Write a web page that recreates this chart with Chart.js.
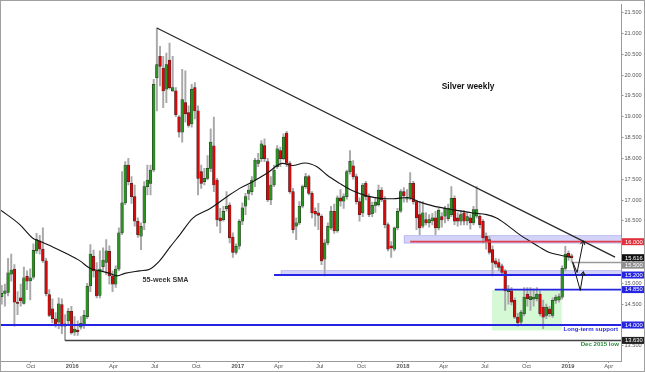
<!DOCTYPE html>
<html><head><meta charset="utf-8">
<script src="https://cdn.jsdelivr.net/npm/chart.js@4.4.0/dist/chart.umd.min.js"></script>
<style>html,body{margin:0;padding:0;background:#fff;}#wrap{width:645px;height:372px;position:relative;}</style>
</head><body><div id="wrap"><canvas id="c" width="645" height="372"></canvas></div>
<script>
// ---------- DATA ----------
const firstWeek = '2015-07-27'; // Monday of first weekly candle
const openV = [14.68,14.76,14.78,15.22,15.34,14.55,14.65,14.52,15.17,15.06,15.15,15.78,16.02,15.82,15.54,14.73,14.39,14.15,14.07,14.49,
13.97,14.10,14.33,13.83,13.88,13.95,14.00,14.20,14.94,15.65,15.30,14.71,15.40,15.50,15.77,15.18,14.98,15.34,16.21,16.93,
17.84,17.40,17.08,16.49,16.13,16.45,17.32,17.40,17.72,19.94,20.45,20.17,19.66,20.36,19.62,19.62,19.00,18.63,19.34,19.10,
18.83,19.70,19.14,17.68,17.44,17.52,17.76,18.30,17.48,16.57,16.53,16.79,16.88,16.11,15.74,15.89,16.49,16.85,17.16,17.20,
17.48,17.88,17.99,18.31,17.92,17.00,17.36,17.80,18.19,17.99,18.61,17.88,17.20,16.37,16.45,16.85,17.32,17.56,17.16,16.73,
16.69,16.61,15.58,15.97,16.33,16.73,16.26,17.05,16.97,17.08,17.68,17.82,17.56,16.96,16.69,17.40,17.08,16.67,16.87,16.89,
17.24,17.00,16.41,15.90,15.82,16.33,16.73,17.20,17.02,17.05,17.40,16.96,16.65,16.37,16.53,16.45,16.50,16.57,16.33,16.60,
16.61,16.55,16.65,17.04,16.57,16.49,16.69,16.50,16.57,16.45,16.61,16.61,16.49,16.13,16.05,15.81,15.54,15.50,15.42,15.30,
14.80,14.82,14.59,14.19,14.07,14.27,14.74,14.61,14.62,14.63,14.74,14.43,14.23,14.39,14.23,14.59,14.60,14.67,15.36,15.72,15.66];
const highV = [14.95,14.98,15.60,15.70,15.45,14.80,14.98,15.39,15.30,15.35,15.95,16.20,16.15,16.33,15.60,14.85,14.63,14.30,14.65,14.63,
14.25,14.40,14.45,14.20,14.10,14.20,14.35,15.00,15.93,15.80,15.50,15.78,15.85,16.05,15.90,15.30,15.42,16.33,17.68,17.92,
18.00,17.56,17.36,16.57,16.45,17.44,17.84,17.84,19.90,21.13,20.69,20.45,20.53,20.77,20.45,19.70,19.03,20.14,20.10,19.26,
19.78,19.82,19.26,17.84,17.76,18.07,18.71,18.99,17.52,16.80,16.85,17.20,16.93,16.21,15.95,16.53,16.93,17.16,17.36,17.56,
18.00,18.12,18.43,18.47,18.00,17.56,17.84,18.31,18.27,18.59,18.65,17.92,17.28,16.57,16.96,17.36,17.64,17.60,17.20,16.81,
16.92,16.65,16.05,16.45,16.85,16.90,17.10,17.25,17.15,17.72,18.19,17.95,17.62,17.05,17.40,17.45,17.15,16.95,17.05,17.36,
17.30,17.08,16.45,16.00,16.35,16.80,17.25,17.30,17.25,17.66,17.45,17.00,16.96,16.96,16.70,16.65,16.68,16.73,16.80,16.70,
16.85,16.90,17.32,17.10,16.69,16.75,16.75,16.70,16.65,16.85,17.32,16.65,16.53,16.21,16.13,15.90,15.60,15.58,15.46,15.33,
14.95,14.90,14.65,14.28,14.35,14.90,14.90,14.90,14.87,14.90,14.82,14.60,14.50,14.45,14.65,14.72,14.75,15.42,15.89,15.78,15.70];
const lowV = [14.50,14.45,14.70,15.05,13.97,14.25,14.45,14.50,14.85,14.60,15.10,15.72,15.70,15.50,14.70,14.20,14.05,13.95,13.91,13.79,
13.63,14.00,13.78,13.75,13.75,13.90,13.92,14.15,14.80,15.15,14.65,14.65,15.30,15.20,14.98,14.80,14.90,15.30,16.17,16.89,
17.36,16.92,16.37,16.10,15.81,16.29,17.12,17.12,17.68,19.14,19.74,19.22,19.34,19.66,19.60,19.00,18.51,18.39,18.87,18.75,
18.75,18.95,17.12,17.28,17.36,17.48,17.68,17.20,16.37,16.21,16.49,16.73,15.97,15.62,15.70,15.82,16.41,16.65,17.00,17.12,
17.32,17.80,17.92,17.92,16.96,16.89,17.32,17.76,17.80,17.96,17.80,17.16,16.21,16.05,16.41,16.81,17.28,17.12,16.57,16.37,
16.29,15.45,15.18,15.92,16.29,16.20,16.22,16.85,16.80,17.02,17.62,17.50,16.90,16.49,16.60,17.00,16.60,16.60,16.70,16.85,
16.96,16.33,15.78,15.62,15.78,16.28,16.70,16.95,16.95,17.00,16.90,16.29,16.17,16.33,16.40,16.35,16.40,16.17,16.28,16.35,
16.45,16.50,16.60,16.41,16.37,16.40,16.40,16.40,16.30,16.40,16.57,16.33,15.97,15.82,15.70,15.18,15.38,15.30,15.22,14.35,
14.50,14.48,14.15,13.97,14.02,14.22,14.45,14.35,14.45,14.58,14.22,13.91,14.15,14.20,14.18,14.52,14.55,14.62,15.30,15.55,15.50];
const closeV = [14.76,14.82,15.25,15.32,14.55,14.52,14.58,15.13,15.05,15.13,15.79,16.05,15.82,15.54,14.75,14.23,14.15,14.02,14.51,13.97,
14.03,14.33,13.81,13.90,13.84,14.04,14.23,14.93,15.70,15.30,14.70,15.34,15.56,15.78,15.18,14.98,15.34,16.21,16.93,17.84,
17.44,17.08,16.49,16.17,16.37,17.32,17.48,17.72,19.78,20.25,20.21,19.62,20.25,19.70,19.70,19.05,18.63,19.41,19.07,18.79,
19.66,19.14,17.52,17.40,17.52,17.76,18.39,17.36,16.53,16.50,16.73,16.85,16.09,15.74,15.89,16.49,16.81,17.08,17.24,17.48,
17.96,17.96,18.35,17.99,17.00,17.36,17.72,18.23,17.99,18.51,17.88,17.20,16.29,16.45,16.85,17.32,17.56,17.16,16.69,16.66,
16.63,15.54,15.97,16.37,16.73,16.26,17.05,16.97,17.08,17.68,17.93,17.56,16.96,16.65,17.36,17.08,16.65,16.87,16.95,17.24,
17.00,16.41,15.82,15.85,16.33,16.73,17.20,17.10,17.05,17.40,16.96,16.57,16.33,16.69,16.45,16.53,16.57,16.33,16.75,16.52,
16.81,16.80,17.04,16.49,16.49,16.65,16.49,16.60,16.45,16.77,16.77,16.41,16.09,16.01,15.74,15.50,15.46,15.38,15.26,14.82,
14.86,14.55,14.19,14.05,14.31,14.67,14.63,14.68,14.67,14.74,14.27,14.19,14.43,14.27,14.59,14.67,14.68,15.36,15.70,15.63,15.616];

// 55-week SMA
const smaDates = ['2015-07-25','2015-09-07','2015-10-05','2015-10-21','2015-11-19','2015-12-20','2016-01-18','2016-02-09','2016-03-02',
'2016-03-24','2016-04-09','2016-04-26','2016-05-29','2016-06-20','2016-07-12','2016-08-04','2016-08-26','2016-09-23','2016-10-31',
'2016-12-08','2017-01-05','2017-02-03','2017-03-06','2017-04-10','2017-05-02','2017-05-29','2017-06-25','2017-07-17','2017-08-14',
'2017-09-12','2017-10-13','2017-11-11','2017-12-10','2018-01-10','2018-02-08','2018-03-08','2018-04-08','2018-05-07','2018-06-04',
'2018-07-05','2018-07-27','2018-08-18','2018-09-16','2018-10-15','2018-10-30','2018-11-21','2018-12-13','2019-01-07'];
const smaValues = [16.77,16.41,16.09,16.01,15.87,15.71,15.54,15.36,15.30,
15.24,15.18,15.24,15.30,15.34,15.54,15.87,16.17,16.56,16.79,
17.08,17.28,17.44,17.64,17.88,17.83,17.89,17.80,17.60,17.40,
17.22,17.10,17.04,17.03,17.06,16.95,16.86,16.79,16.74,16.69,
16.65,16.57,16.41,16.17,15.97,15.87,15.74,15.68,15.63];

// falling trend line from the July 2016 high
const trendDates = ['2016-07-06','2019-04-15'];
const trendValues = [21.13, 15.63];

// horizontal levels (value, first date drawn)
const levelValues = [14.00, 13.63, 15.20, 16.00, 14.85, 15.50];
const levelStarts = ['2015-07-01','2015-12-16','2017-03-22','2018-01-17','2018-07-23','2019-01-12'];
// shaded zones
const zoneStarts = ['2017-04-06','2018-01-03'];
const zoneLows = [15.20, 15.96];
const zoneHighs = [15.31, 16.15];
// consolidation box
const boxDates = ['2018-07-17','2018-12-18'];
const boxValues = [13.87, 14.84];

// projected paths
const pathADates = ['2019-01-11','2019-01-21','2019-02-04'];
const pathAValues = [15.52, 15.26, 16.02];
const pathBDates = ['2019-01-11','2019-01-28','2019-02-04'];
const pathBValues = [15.50, 14.83, 15.28];

// axis tags on the price scale
const tagValues = [16.000, 15.616, 15.500, 15.200, 14.850, 14.000, 13.630];

// ticks
const xTickDates = ['2015-10-01','2016-01-01','2016-04-01','2016-07-01','2016-10-01','2017-01-01','2017-04-01','2017-07-01',
'2017-10-01','2018-01-01','2018-04-01','2018-07-01','2018-10-01','2019-01-01','2019-04-01'];
const xTickLabels = ['Oct','2016','Apr','Jul','Oct','2017','Apr','Jul','Oct','2018','Apr','Jul','Oct','2019','Apr'];
const yTickValues = [13.5,14.0,14.5,15.0,15.5,16.0,16.5,17.0,17.5,18.0,18.5,19.0,19.5,20.0,20.5,21.0,21.5];

// ---------- HELPERS ----------
const DAY0 = Date.UTC(2016,0,1);
function dayOf(s){const p=s.split('-').map(Number);return (Date.UTC(p[0],p[1]-1,p[2])-DAY0)/86400000;}
const w0 = dayOf(firstWeek);
const cx = openV.map((_,i)=>w0+7*i+2);
const XMIN=-157.6, XMAX=1213.1, YMIN=13.136, YMAX=21.697;
const FONT='"Liberation Sans", Arial, sans-serif';

const GREEN='#2a9220', RED='#d40a0a';
const bodyColors = openV.map((o,i)=>closeV[i]>=o?GREEN:RED);

const levelStyle = [
  {c:'#2424e2',w:2},{c:'#444444',w:1.5},{c:'#2424e2',w:2},{c:'#e0404e',w:1.8},{c:'#2424e2',w:1.8},{c:'#9a9a9a',w:1.5}];
const tagStyle = ['#e0303c','#111111','#8f8f8f','#2424e2','#2424e2','#2424e2','#222222'];

const datasets = [];
levelValues.forEach((v,k)=>{
  datasets.push({type:'line',data:[{x:dayOf(levelStarts[k]),y:v},{x:XMAX,y:v}],borderColor:levelStyle[k].c,
    borderWidth:levelStyle[k].w,pointRadius:0,order:1});
});
datasets.push({type:'bar',data:cx.map((x,i)=>({x:x,y:[lowV[i],highV[i]]})),backgroundColor:'#a9a9a9',
  barThickness:1.3,grouped:false,order:4});
datasets.push({type:'bar',data:cx.map((x,i)=>({x:x,y:[Math.min(openV[i],closeV[i]),Math.max(openV[i],closeV[i])+ (Math.abs(openV[i]-closeV[i])<0.02?0.02:0)]})),
  backgroundColor:bodyColors,borderColor:'#2a2a2a',borderWidth:0.5,borderSkipped:false,barThickness:2.7,grouped:false,order:3});
datasets.push({type:'line',data:smaDates.map((d,i)=>({x:dayOf(d),y:smaValues[i]})),borderColor:'#151515',borderWidth:1.1,
  pointRadius:0,cubicInterpolationMode:'monotone',order:2});
datasets.push({type:'line',data:trendDates.map((d,i)=>({x:dayOf(d)+0,y:trendValues[i]})),borderColor:'#262626',borderWidth:1.2,pointRadius:0,order:0});
datasets.push({type:'line',data:pathADates.map((d,i)=>({x:dayOf(d),y:pathAValues[i]})),borderColor:'#111',borderWidth:1,pointRadius:0,order:0,arrow:true});
datasets.push({type:'line',data:pathBDates.map((d,i)=>({x:dayOf(d),y:pathBValues[i]})),borderColor:'#111',borderWidth:1,pointRadius:0,order:0,arrow:true});

const bgPlugin = {
  id:'bg',
  beforeDatasetsDraw(chart){
    const {ctx,chartArea:a,scales:{x,y}} = chart;
    ctx.save();
    ctx.beginPath();ctx.rect(a.left,a.top,a.right-a.left,a.bottom-a.top);ctx.clip();
    // consolidation box
    const bx0=x.getPixelForValue(dayOf(boxDates[0])), bx1=x.getPixelForValue(dayOf(boxDates[1]));
    const by0=y.getPixelForValue(boxValues[1]), by1=y.getPixelForValue(boxValues[0]);
    ctx.fillStyle='rgba(178,242,178,0.55)';
    ctx.fillRect(bx0,by0,bx1-bx0,by1-by0);
    // zones
    zoneStarts.forEach((d,k)=>{
      const x0=x.getPixelForValue(dayOf(d)), y0=y.getPixelForValue(zoneHighs[k]), y1=y.getPixelForValue(zoneLows[k]);
      ctx.fillStyle='rgba(150,150,240,0.42)';
      ctx.fillRect(x0,y0,a.right-x0,y1-y0);
      ctx.strokeStyle='rgba(130,130,225,0.6)';ctx.lineWidth=0.6;
      ctx.strokeRect(x0+0.3,y0+0.3,a.right-x0,y1-y0-0.6);
    });
    ctx.restore();
  }
};

const overlayPlugin = {
  id:'overlay',
  afterDatasetsDraw(chart){
    const {ctx,chartArea:a,scales:{x,y}} = chart;
    ctx.save();
    // arrowheads
    chart.data.datasets.forEach((ds,di)=>{
      if(!ds.arrow) return;
      const pts = chart.getDatasetMeta(di).data;
      const p1=pts[pts.length-1], p0=pts[pts.length-2];
      const ang=Math.atan2(p1.y-p0.y,p1.x-p0.x);
      const L=4.5;
      ctx.strokeStyle='#111';ctx.lineWidth=1;
      ctx.beginPath();
      ctx.moveTo(p1.x-L*Math.cos(ang-0.55),p1.y-L*Math.sin(ang-0.55));
      ctx.lineTo(p1.x,p1.y);
      ctx.lineTo(p1.x-L*Math.cos(ang+0.55),p1.y-L*Math.sin(ang+0.55));
      ctx.stroke();
    });
    // texts
    ctx.textBaseline='middle';
    ctx.textAlign='center';
    ctx.fillStyle='#111';ctx.font='bold 8.4px '+FONT;
    ctx.fillText('Silver weekly',x.getPixelForValue(875),y.getPixelForValue(19.72));
    ctx.fillStyle='#333';ctx.font='bold 7.2px '+FONT;
    ctx.fillText('55-week SMA',x.getPixelForValue(206),y.getPixelForValue(15.08));
    ctx.textAlign='right';
    ctx.fillStyle='#2b2be0';ctx.font='bold 6.1px '+FONT;
    ctx.fillText('Long-term support',a.right-3,y.getPixelForValue(13.905));
    ctx.fillStyle='#2a8a3a';ctx.font='bold 6.1px '+FONT;
    ctx.fillText('Dec 2015 low',a.right-2,y.getPixelForValue(13.54));
    ctx.restore();
  },
  afterDraw(chart){
    const {ctx,chartArea:a,scales:{y}} = chart;
    ctx.save();
    const H=7;
    let prevBottom=-1e9;
    ctx.font='5.8px '+FONT;ctx.textBaseline='middle';ctx.textAlign='left';
    tagValues.forEach((v,k)=>{
      let top=y.getPixelForValue(v)-H/2;
      if(top<prevBottom+0.5) top=prevBottom+0.5;
      prevBottom=top+H;
      ctx.fillStyle=tagStyle[k];
      ctx.fillRect(a.right+1,top,chart.width-a.right-2,H);
      ctx.fillStyle='#ffffff';
      ctx.fillText(v.toFixed(3),a.right+4,top+H/2+0.3);
    });
    // frame
    ctx.strokeStyle='#a0a0a0';ctx.lineWidth=1;
    ctx.strokeRect(0.5,0.5,chart.width-1,chart.height-1);
    ctx.restore();
  }
};

new Chart(document.getElementById('c'),{
  type:'bar',
  data:{datasets:datasets},
  options:{
    responsive:false,animation:false,
    layout:{padding:{left:1,top:1,right:0,bottom:0}},
    plugins:{legend:{display:false},tooltip:{enabled:false}},
    scales:{
      x:{type:'linear',min:XMIN,max:XMAX,offset:false,
        afterBuildTicks:s=>{s.ticks=xTickDates.map(d=>({value:dayOf(d)}));},
        afterFit:s=>{s.height=11;},
        grid:{display:true,drawOnChartArea:false,drawTicks:true,tickLength:2,color:'#9a9a9a',offset:false},
        border:{display:true,color:'#9a9a9a',width:1},
        ticks:{autoSkip:false,maxRotation:0,padding:0,color:'#555',
          font:(c)=>({family:FONT,size:5.8,weight:/^\d/.test(xTickLabels[c.index]||'')?'bold':'normal'}),
          callback:(v,i)=>xTickLabels[i]}},
      y:{type:'linear',position:'right',min:YMIN,max:YMAX,beginAtZero:false,
        afterBuildTicks:s=>{s.ticks=yTickValues.map(v=>({value:v}));},
        afterFit:s=>{s.width=24;},
        grid:{display:true,drawOnChartArea:false,drawTicks:true,tickLength:2.5,color:'#9a9a9a'},
        border:{display:true,color:'#9a9a9a',width:1},
        ticks:{padding:1,color:'#555',font:{family:FONT,size:5.6},callback:v=>v.toFixed(3)}}
    }
  },
  plugins:[bgPlugin,overlayPlugin]
});
</script></body></html>
